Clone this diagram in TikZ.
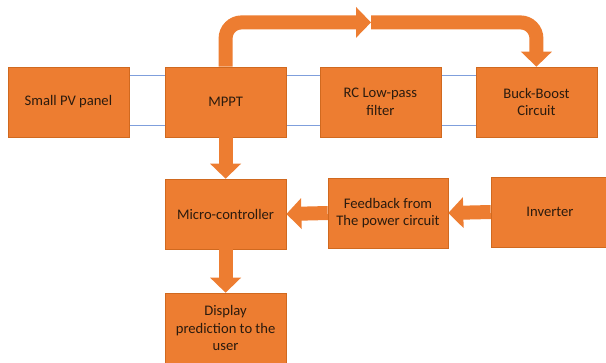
\documentclass[tikz,border=0pt]{standalone}
\usepackage{fontspec}
\setmainfont{Carlito}
\usetikzlibrary{positioning,arrows.meta,backgrounds,calc}

\definecolor{boxfill}{HTML}{ED7D31}
\definecolor{boxline}{HTML}{D0691F}
\definecolor{wireblue}{HTML}{7F9FDC}
\definecolor{txt}{HTML}{2B1B0E}

\begin{document}
\begin{tikzpicture}[
  font=\fontsize{10.4}{12.6}\selectfont,
  blk/.style={draw=boxline, fill=boxfill, text=txt, minimum width=3.025cm, minimum height=1.75cm, align=center, inner sep=1pt},
  wire/.style={draw=wireblue, line width=0.8pt},
  flow/.style={draw=boxfill, line width=0.35cm, -{Triangle[width=0.75cm, length=0.375cm]}},
  overflow/.style={flow, rounded corners=0.4cm}
]
\useasboundingbox (0,0) rectangle (15.15,-9.05);

% top row
\node[blk] (pv)   at (1.71,-2.55)  {Small PV panel};
\node[blk] (mppt) at (5.64,-2.55)  {MPPT};
\node[blk] (rcf)  at (9.51,-2.55)  {RC Low-pass\\filter};
\node[blk] (buck) at (13.41,-2.55) {Buck-Boost\\Circuit};

% lower part
\node[blk] (micro) at (5.64,-5.35) {Micro-controller};
\node[blk, minimum width=3cm] (fb) at (9.7,-5.325) {Feedback from\\The power circuit};
\node[blk, minimum width=2.95cm] (inv) at (13.75,-5.3) {Inverter};
\node[blk] (disp) at (5.64,-8.2) {Display\\prediction to the\\user};

% thin lines behind the top row
\begin{scope}[on background layer]
  \draw[wire] ([yshift=-0.225cm]pv.north east) -- ([yshift=-0.225cm]buck.north west);
  \draw[wire] ([yshift=0.3cm]pv.south east) -- ([yshift=0.3cm]buck.south west);
\end{scope}

% arrows over the top
\coordinate (split) at (9.275,-0.56);
\draw[overflow] (mppt.north) |- (split);
\draw[overflow] (split) -| (buck.north);

% block arrows
\draw[flow] (mppt.south) -- (micro.north);
\draw[flow] (micro.south) -- (disp.north);
\draw[flow] (fb.west) -- (micro.east);
\draw[flow] (inv.west) -- (fb.east);

\end{tikzpicture}
\end{document}
